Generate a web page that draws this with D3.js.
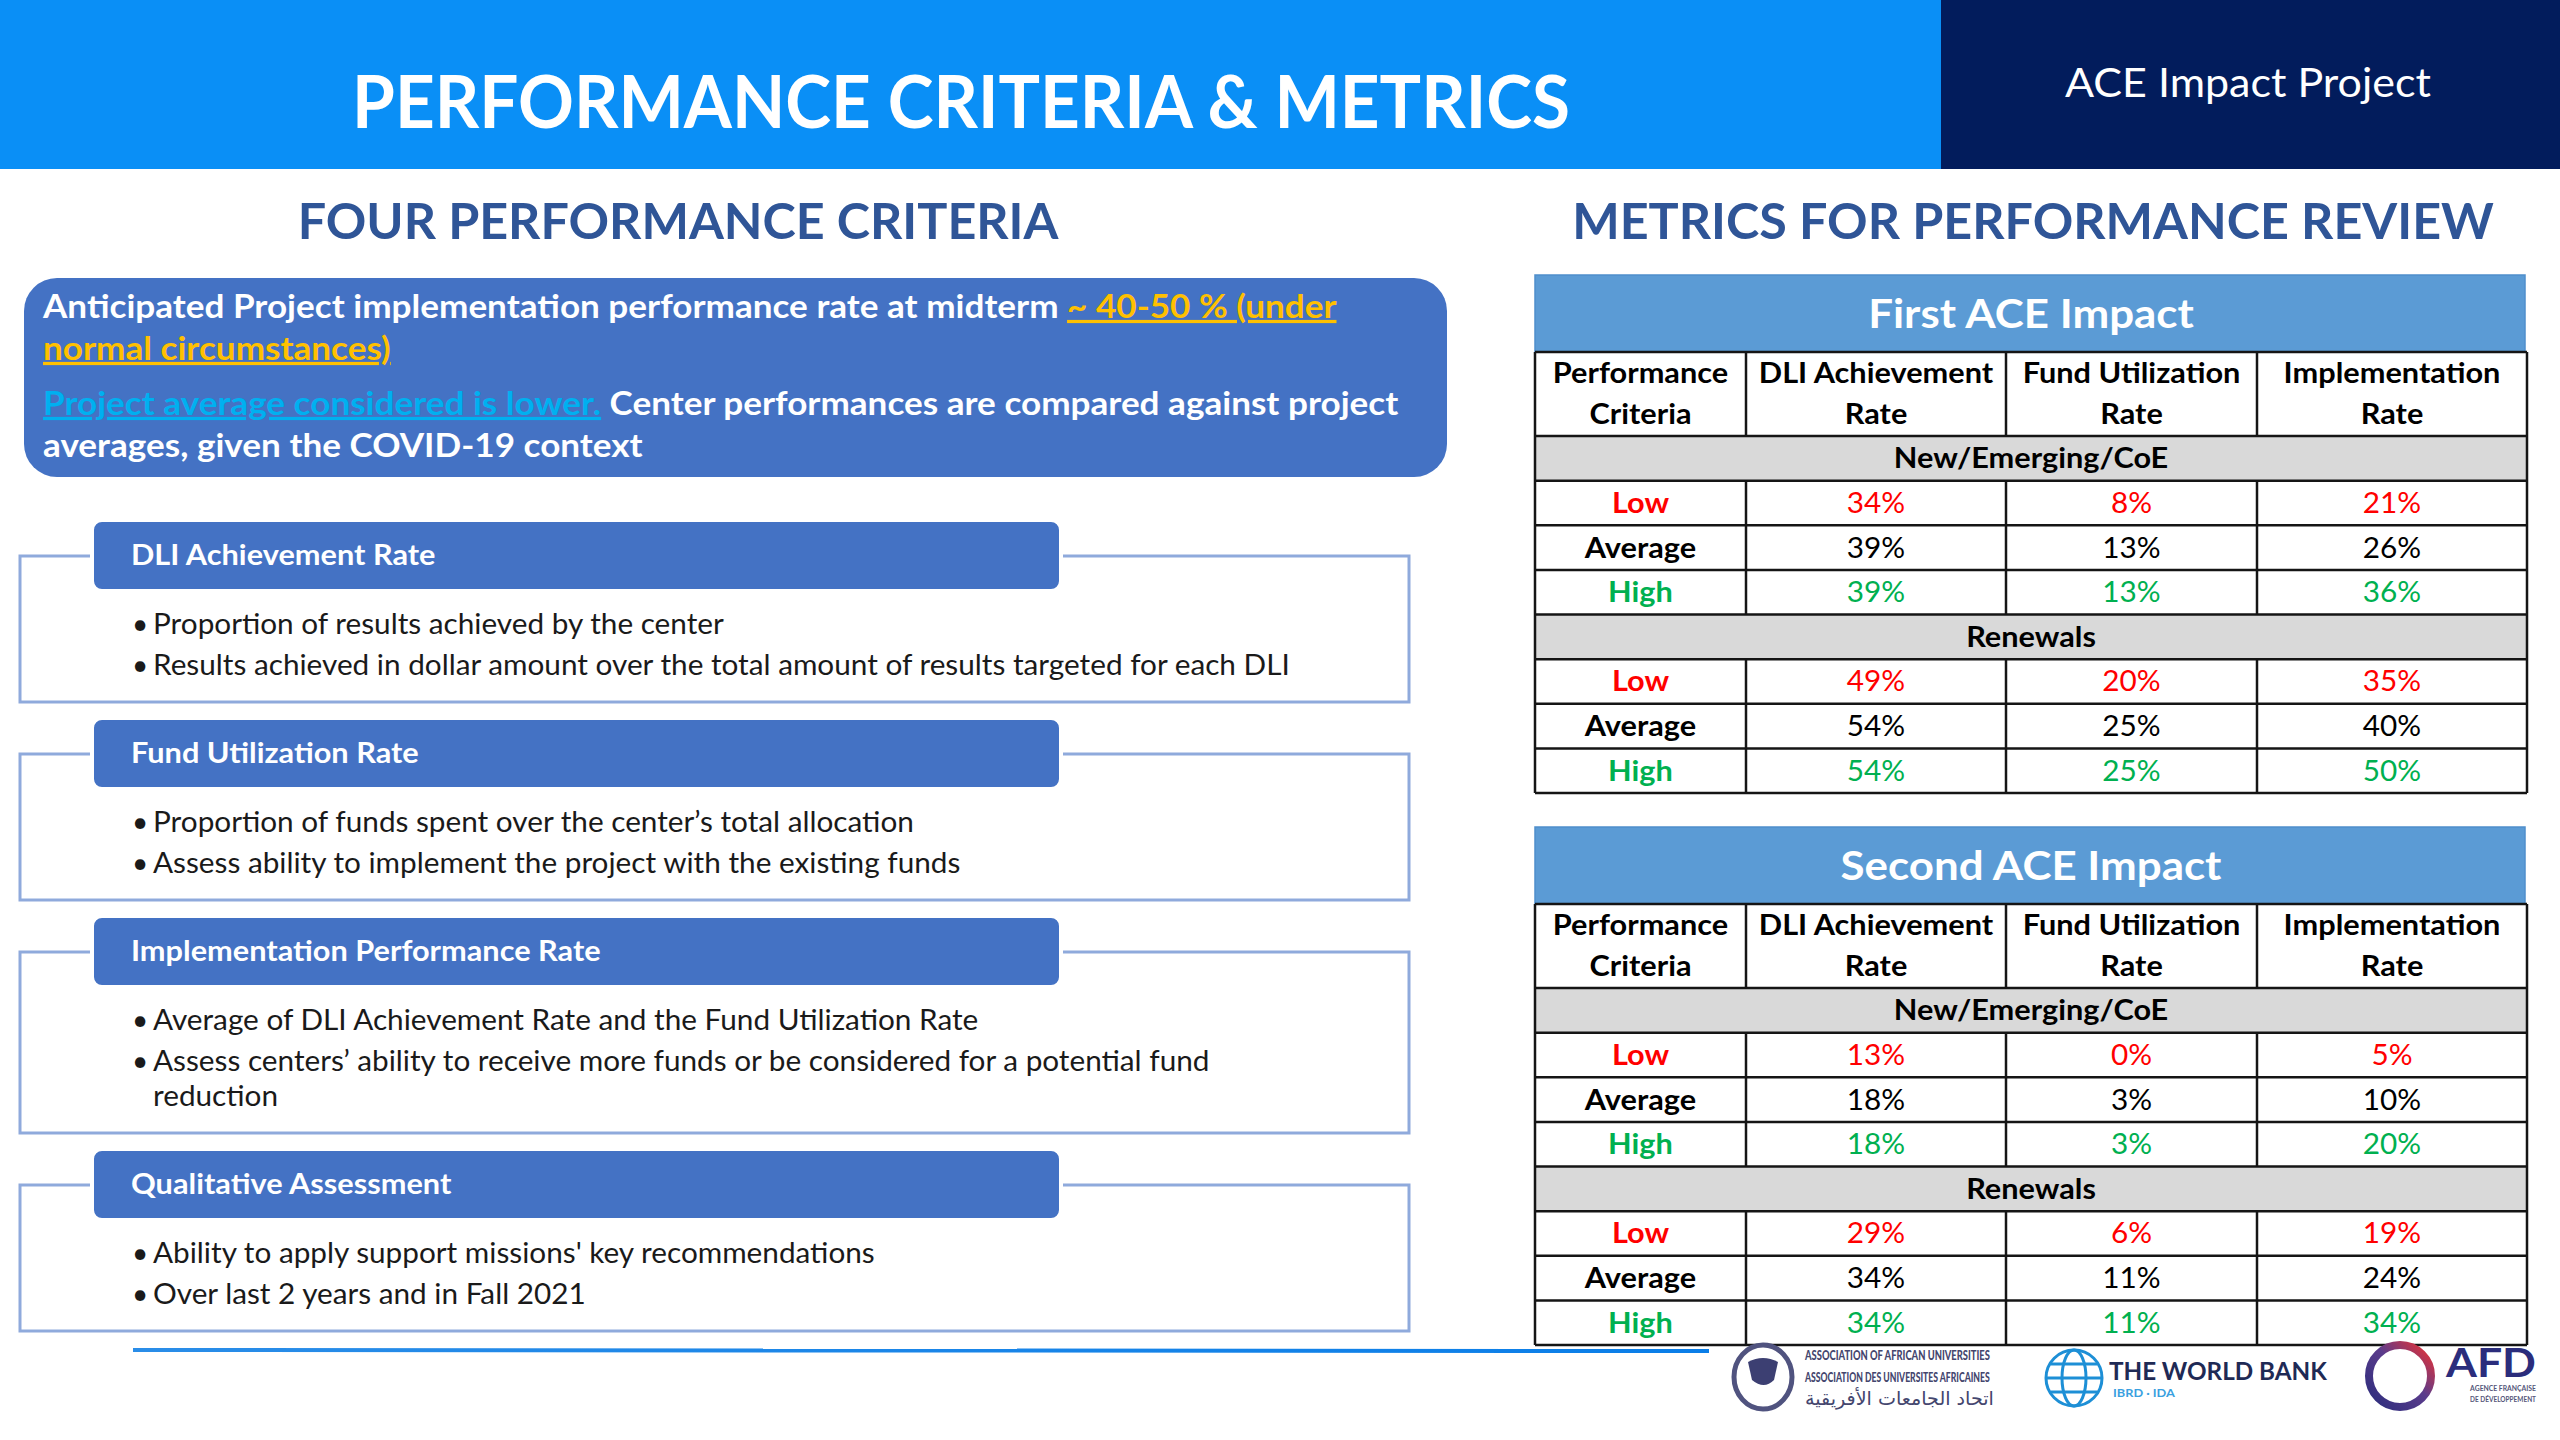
<!DOCTYPE html>
<html lang="en">

<head>
    <meta charset="UTF-8">
    <title>Performance Criteria & Metrics</title>
    <script src="https://cdn.jsdelivr.net/npm/d3@7/dist/d3.min.js"></script>
    <style>
        body { margin: 0; background: #fff; }
        svg { display: block; font-family: Lato, "Open Sans", sans-serif; }
    </style>
</head>

<body>
    <svg id="main" width="2560" height="1440"></svg>
    <script>
        // ---- data ----
        const pageTitle = "PERFORMANCE CRITERIA & METRICS";
        const projectName = "ACE Impact Project";
        const leftHeading = "FOUR PERFORMANCE CRITERIA";
        const rightHeading = "METRICS FOR PERFORMANCE REVIEW";

        const introLines = [
            [{ t: "Anticipated Project implementation performance rate at midterm " }, { t: "~ 40-50 % (under", c: "yellow" }],
            [{ t: "normal circumstances)", c: "yellow" }],
            [{ t: "Project average considered is lower.", c: "cyan" }, { t: " Center performances are compared against project" }],
            [{ t: "averages, given the COVID-19 context" }]
        ];

        const criteriaTitles = ["DLI Achievement Rate", "Fund Utilization Rate", "Implementation Performance Rate", "Qualitative Assessment"];
        const criteriaBullets = [
            [["Proportion of results achieved by the center"], ["Results achieved in dollar amount over the total amount of results targeted for each DLI"]],
            [["Proportion of funds spent over the center’s total allocation"], ["Assess ability to implement the project with the existing funds"]],
            [["Average of DLI Achievement Rate and the Fund Utilization Rate"], ["Assess centers’ ability to receive more funds or be considered for a potential fund", "reduction"]],
            [["Ability to apply support missions' key recommendations"], ["Over last 2 years and in Fall 2021"]]
        ];

        const tableTitles = ["First ACE Impact", "Second ACE Impact"];
        const columnHeaders = [["Performance", "Criteria"], ["DLI Achievement", "Rate"], ["Fund Utilization", "Rate"], ["Implementation", "Rate"]];
        const groupNames = ["New/Emerging/CoE", "Renewals"];
        const levels = ["Low", "Average", "High"];
        // rows: Low, Average, High ; columns: DLI, Fund, Implementation (%)
        const firstNew = [[34, 8, 21], [39, 13, 26], [39, 13, 36]];
        const firstRenewals = [[49, 20, 35], [54, 25, 40], [54, 25, 50]];
        const secondNew = [[13, 0, 5], [18, 3, 10], [18, 3, 20]];
        const secondRenewals = [[29, 6, 19], [34, 11, 24], [34, 11, 34]];

        // ---- styles ----
        const C = {
            header: "#0a8ff6", navy: "#021c5c", heading: "#2f5597", box: "#4472c4",
            frame: "#8faadc", yellow: "#ffc000", cyan: "#00b0f0", text: "#1a1a1a",
            band: "#5b9bd5", gray: "#d9d9d9", grid: "#151515",
            Low: "#ff0000", Average: "#000000", High: "#00b050"
        };

        const svg = d3.select('#main');

        function measure(txt, size, weight) {
            const t = svg.append('text').attr('font-size', size).attr('font-weight', weight).text(txt);
            const w = t.node().getComputedTextLength();
            t.remove();
            return w;
        }

        // text with a horizontal squeeze, to get close to the narrow face used in the slide
        function label(parent, x, y, parts, o) {
            const g = parent.append('g').attr('transform', `translate(${x},${y}) scale(${o.k || 1},1)`);
            const t = g.append('text')
                .attr('font-size', o.size)
                .attr('font-weight', o.weight || 400)
                .attr('text-anchor', o.anchor || 'start')
                .attr('fill', o.fill || C.text);
            if (typeof parts === 'string') parts = [{ t: parts }];
            parts.forEach(p => {
                t.append('tspan')
                    .attr('fill', p.c ? C[p.c] : (o.fill || C.text))
                    .attr('text-decoration', p.c ? 'underline' : null)
                    .text(p.t);
            });
            return t;
        }

        function fitted(parent, x, y, txt, o, width) {
            const k = width / measure(txt, o.size, o.weight || 400);
            return label(parent, x, y, txt, Object.assign({}, o, { k }));
        }

        const kReg = 1137 / measure(criteriaBullets[0][1][0], 29, 400);
        const kBold = 1016 / measure(introLines[0][0].t.trim(), 32, 700);

        // ---- header ----
        svg.append('rect').attr('x', 0).attr('y', 0).attr('width', 1941).attr('height', 169).attr('fill', C.header);
        svg.append('rect').attr('x', 1941).attr('y', 0).attr('width', 619).attr('height', 169).attr('fill', C.navy);
        fitted(svg, 961, 128, pageTitle, { size: 72, weight: 700, anchor: 'middle', fill: '#fff' }, 1218);
        fitted(svg, 2248, 97, projectName, { size: 40, weight: 400, anchor: 'middle', fill: '#fff' }, 366);

        fitted(svg, 678, 239, leftHeading, { size: 50, weight: 700, anchor: 'middle', fill: C.heading }, 761);
        fitted(svg, 2033, 239, rightHeading, { size: 50, weight: 700, anchor: 'middle', fill: C.heading }, 922);

        // ---- intro box ----
        svg.append('rect').attr('x', 24).attr('y', 278).attr('width', 1423).attr('height', 199)
            .attr('rx', 33).attr('fill', C.box);
        const introBase = [318, 360, 415, 457];
        introLines.forEach((ln, i) => {
            label(svg, 43, introBase[i], ln, { size: 32, weight: 700, fill: '#fff', k: kBold });
        });

        // ---- four criteria ----
        const left = svg.append('g');
        let pillTop = 520;
        criteriaTitles.forEach((title, i) => {
            const bullets = criteriaBullets[i];
            const nLines = d3.sum(bullets, b => b.length);
            const frameTop = pillTop + 36;
            const frameBottom = pillTop + 114 + 41 + (nLines - 2) * 35 + 27;
            left.append('rect').attr('x', 20).attr('y', frameTop).attr('width', 1389)
                .attr('height', frameBottom - frameTop).attr('fill', 'none')
                .attr('stroke', C.frame).attr('stroke-width', 3);
            left.append('rect').attr('x', 92).attr('y', pillTop).attr('width', 969).attr('height', 71)
                .attr('rx', 10).attr('fill', C.box).attr('stroke', '#fff').attr('stroke-width', 4);
            label(left, 131, pillTop + 45, title, { size: 28, weight: 700, fill: '#fff', k: kBold });

            let y = pillTop + 114;
            bullets.forEach((b, j) => {
                if (j > 0) y += 41;
                label(left, 132, y, "•", { size: 28, weight: 400, k: 1 });
                b.forEach((txt, m) => {
                    label(left, 153, y + m * 35, txt, { size: 29, k: kReg });
                });
                y += (b.length - 1) * 35;
            });
            pillTop = frameBottom + 16;
        });

        // bottom rule
        const grad = svg.append('defs').append('linearGradient').attr('id', 'rule');
        grad.append('stop').attr('offset', '0%').attr('stop-color', '#2a8de8');
        grad.append('stop').attr('offset', '100%').attr('stop-color', '#0a7ee8');
        svg.append('line').attr('x1', 133).attr('x2', 1709).attr('y1', 1350).attr('y2', 1351)
            .attr('stroke', 'url(#rule)').attr('stroke-width', 4);

        // ---- tables ----
        const colEdges = [1535, 1746, 2006, 2257, 2527];
        const x = d3.scaleOrdinal().domain(d3.range(4)).range(colEdges.slice(0, 4));
        const colW = i => colEdges[i + 1] - colEdges[i];
        const colMid = i => x(i) + colW(i) / 2;

        function drawTable(title, newVals, renVals, top) {
            const g = svg.append('g');
            const bandH = 77, headH = 84, rowsH = 357;
            const headTop = top + bandH, rowTop = headTop + headH, bottom = rowTop + rowsH;
            const rows = [];
            [newVals, renVals].forEach((vals, gi) => {
                rows.push({ group: groupNames[gi] });
                vals.forEach((v, li) => rows.push({ level: levels[li], vals: v }));
            });
            const y = d3.scaleBand().domain(d3.range(rows.length)).range([rowTop, bottom]);

            g.append('rect').attr('x', colEdges[0]).attr('y', top).attr('width', 990).attr('height', bandH)
                .attr('fill', C.band).attr('stroke', '#4f8fcc').attr('stroke-width', 1.5);
            label(g, (colEdges[0] + colEdges[4]) / 2, top + 53, title, { size: 40, weight: 700, anchor: 'middle', fill: '#fff', k: kBold });

            columnHeaders.forEach((h, i) => {
                label(g, colMid(i), headTop + 31, h[0], { size: 28, weight: 700, anchor: 'middle', fill: '#000', k: kBold });
                label(g, colMid(i), headTop + 72, h[1], { size: 28, weight: 700, anchor: 'middle', fill: '#000', k: kBold });
            });

            rows.forEach((r, ri) => {
                const yy = y(ri), mid = yy + y.bandwidth() / 2 + 10;
                if (r.group) {
                    g.append('rect').attr('x', colEdges[0]).attr('y', yy).attr('width', colEdges[4] - colEdges[0])
                        .attr('height', y.bandwidth()).attr('fill', C.gray);
                    label(g, (colEdges[0] + colEdges[4]) / 2, mid, r.group, { size: 28, weight: 700, anchor: 'middle', fill: '#000', k: kBold });
                } else {
                    label(g, colMid(0), mid, r.level, { size: 28, weight: 700, anchor: 'middle', fill: C[r.level], k: kBold });
                    r.vals.forEach((v, ci) => {
                        label(g, colMid(ci + 1), mid, `${v}%`, { size: 29, anchor: 'middle', fill: C[r.level], k: kReg });
                    });
                }
            });

            // grid
            const hy = [headTop, rowTop].concat(rows.map((r, i) => y(i) + y.bandwidth()));
            g.selectAll('line.h').data(hy).join('line').attr('class', 'h')
                .attr('x1', colEdges[0]).attr('x2', colEdges[4]).attr('y1', d => d).attr('y2', d => d)
                .attr('stroke', C.grid).attr('stroke-width', 2.5);
            [colEdges[0], colEdges[4]].forEach(cx => {
                g.append('line').attr('x1', cx).attr('x2', cx).attr('y1', headTop).attr('y2', bottom)
                    .attr('stroke', C.grid).attr('stroke-width', 2.5);
            });
            const segs = [[headTop, rowTop]].concat(rows.filter(r => !r.group)
                .map(r => { const i = rows.indexOf(r); return [y(i), y(i) + y.bandwidth()]; }));
            colEdges.slice(1, 4).forEach(cx => {
                segs.forEach(s => {
                    g.append('line').attr('x1', cx).attr('x2', cx).attr('y1', s[0]).attr('y2', s[1])
                        .attr('stroke', C.grid).attr('stroke-width', 2.5);
                });
            });
        }

        drawTable(tableTitles[0], firstNew, firstRenewals, 275);
        drawTable(tableTitles[1], secondNew, secondRenewals, 827);

        // ---- logos (simplified) ----
        const logos = svg.append('g');
        // AAU
        logos.append('ellipse').attr('cx', 1763).attr('cy', 1377).attr('rx', 29).attr('ry', 32)
            .attr('fill', 'none').attr('stroke', '#50537f').attr('stroke-width', 5);
        logos.append('path').attr('d', 'M1748,1362 q15,-8 30,0 l-4,18 q-10,10 -22,0 z')
            .attr('fill', '#3c3f72');
        fitted(logos, 1805, 1360, "ASSOCIATION OF AFRICAN UNIVERSITIES", { size: 14, weight: 900, fill: '#44466e' }, 185);
        fitted(logos, 1805, 1382, "ASSOCIATION DES UNIVERSITES AFRICAINES", { size: 14, weight: 900, fill: '#44466e' }, 185);
        const arabic = "اتحاد الجامعات الأفريقية";
        const arW = measure(arabic, 19, 400);
        logos.append('g').attr('transform', `translate(1805,1405) scale(${185 / arW},1)`)
            .append('text').attr('x', 0).attr('y', 0).attr('text-anchor', 'start')
            .attr('font-family', 'DejaVu Sans').attr('font-size', 19).attr('fill', '#44466e')
            .text(arabic);
        // World Bank
        const wb = logos.append('g').attr('fill', 'none').attr('stroke', '#1d8fd6').attr('stroke-width', 3);
        wb.append('circle').attr('cx', 2074).attr('cy', 1378).attr('r', 28);
        wb.append('ellipse').attr('cx', 2074).attr('cy', 1378).attr('rx', 12).attr('ry', 28);
        wb.append('line').attr('x1', 2046).attr('x2', 2102).attr('y1', 1378).attr('y2', 1378);
        wb.append('line').attr('x1', 2051).attr('x2', 2097).attr('y1', 1364).attr('y2', 1364);
        wb.append('line').attr('x1', 2051).attr('x2', 2097).attr('y1', 1392).attr('y2', 1392);
        fitted(logos, 2109, 1380, "THE WORLD BANK", { size: 25, weight: 700, fill: '#1f2a55' }, 218);
        fitted(logos, 2113, 1397, "IBRD · IDA", { size: 11, weight: 700, fill: '#3aa0e0' }, 62);
        // AFD
        const ag = svg.select('defs').append('linearGradient').attr('id', 'afd')
            .attr('x1', '0%').attr('y1', '100%').attr('x2', '100%').attr('y2', '0%');
        ag.append('stop').attr('offset', '0%').attr('stop-color', '#2b2d7c');
        ag.append('stop').attr('offset', '55%').attr('stop-color', '#5b3c8c');
        ag.append('stop').attr('offset', '100%').attr('stop-color', '#ee3030');
        logos.append('circle').attr('cx', 2400).attr('cy', 1376).attr('r', 31)
            .attr('fill', 'none').attr('stroke', 'url(#afd)').attr('stroke-width', 8);
        fitted(logos, 2446, 1377, "AFD", { size: 40, weight: 700, fill: '#2b2d7c' }, 90);
        fitted(logos, 2536, 1391, "AGENCE FRANÇAISE", { size: 8, weight: 700, fill: '#55577a', anchor: 'end' }, 66);
        fitted(logos, 2536, 1402, "DE DÉVELOPPEMENT", { size: 8, weight: 700, fill: '#55577a', anchor: 'end' }, 66);
    </script>
</body>

</html>
